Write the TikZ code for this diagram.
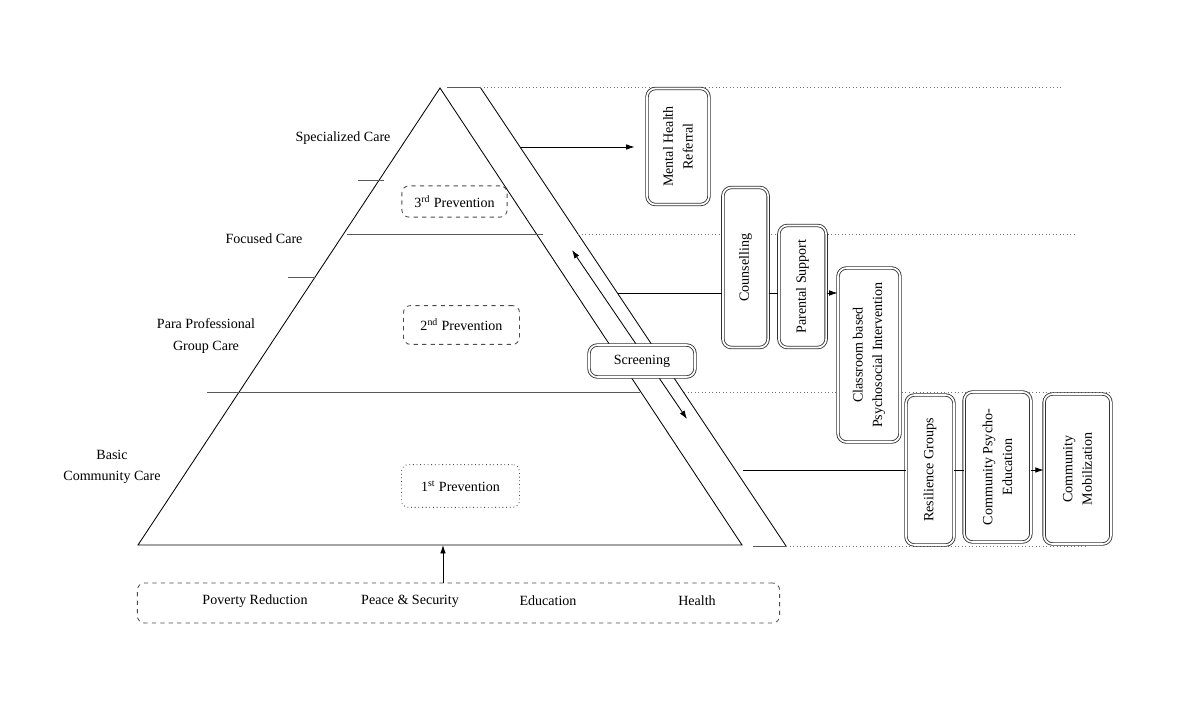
\documentclass[tikz,border=0pt]{standalone}
\usepackage{fontspec}
\setmainfont{Liberation Serif}
\usetikzlibrary{arrows.meta}
\begin{document}
\begin{tikzpicture}[x=0.025cm,y=-0.025cm,line width=0.6pt,
  lbl/.style={align=center,font=\fontsize{10}{15}\selectfont},
  prev/.style={draw=black!70,dashed,rounded corners=5pt,inner sep=0pt,font=\fontsize{10}{12}\selectfont},
  svc/.style={draw=black!80,double,double distance=1.2pt,rounded corners=6pt,fill=white,inner sep=0pt,align=center,font=\fontsize{10}{14}\selectfont},
  lvl/.style={draw=black!65},
  dots/.style={draw=black!55,dotted,line width=0.5pt},
  tip/.style={-{Latex[length=6pt,width=4pt]}}]
\useasboundingbox (0,0) rectangle (1200,702);
\coordinate (apex) at (440,88);
\coordinate (bl) at (138,545);
\coordinate (br) at (742,545);
\coordinate (ot) at (480,87);
\coordinate (ob) at (786,546);
\coordinate (tg) at (447,87);
\coordinate (bg) at (753,546);
\draw (apex) -- (bl) -- (br) -- cycle;
\draw (ot) -- (ob);
\draw[lvl] (tg) -- (ot);
\draw[lvl] (bg) -- (ob);
\draw[lvl] (358,180) -- (384,180);
\draw[lvl] (347,234) -- (543,234);
\draw[lvl] (288,277) -- (315,277);
\draw[lvl] (207,392) -- (640,392);
\draw[dots] (ot) -- (1062,87);
\draw[dots] (578,234) -- (1077,234);
\draw[dots] (684,392) -- (1110,392);
\draw[dots] (ob) -- (1087,546);
\node[lbl] (spc) at (343,138) {Specialized Care};
\node[lbl] (foc) at (264,239) {Focused Care};
\node[lbl] (para) at (206,336) {Para Professional\\Group Care};
\node[lbl] (bas) at (112,467) {Basic\\Community Care};
\node[prev,minimum width=2.63cm,minimum height=0.78cm] (p3) at (454.5,201.5) {3\textsuperscript{rd} Prevention};
\node[prev,minimum width=2.9cm,minimum height=0.97cm] (p2) at (461.5,325) {2\textsuperscript{nd} Prevention};
\node[prev,dotted,minimum width=2.95cm,minimum height=1.07cm] (p1) at (460.5,486) {1\textsuperscript{st} Prevention};
\node[prev,minimum width=16.05cm,minimum height=1cm] (found) at (458.5,603) {};
\node[lbl] (pov) at (255,601) {Poverty Reduction};
\node[lbl] (peace) at (410,601) {Peace \& Security};
\node[lbl] (edu) at (548,601) {Education};
\node[lbl] (hea) at (697,601) {Health};
\coordinate (up) at (443,583);
\draw[tip] (up) -- (up |- br);
\coordinate (sa) at (572,250);
\coordinate (sb) at (687,419);
\draw[{Latex[length=6pt,width=4pt]}-{Latex[length=6pt,width=4pt]}] (sa) -- (sb);
\node[svc,minimum width=2.65cm,minimum height=0.8cm] (scr) at (642,361) {Screening};
\node[svc,rotate=90,minimum width=2.9cm,minimum height=1.55cm] (ment) at (678,146.5) {Mental Health\\Referral};
\node[svc,rotate=90,minimum width=4cm,minimum height=1.13cm] (cou) at (745.5,267.5) {Counselling};
\node[svc,rotate=90,minimum width=3.05cm,minimum height=1.18cm] (par) at (802.5,286.5) {Parental Support};
\node[svc,rotate=90,minimum width=4.35cm,minimum height=1.55cm] (cls) at (869,355) {Classroom based\\Psychosocial Intervention};
\node[svc,rotate=90,minimum width=3.75cm,minimum height=1.2cm] (res) at (930,470) {Resilience Groups};
\node[svc,rotate=90,minimum width=3.75cm,minimum height=1.67cm] (cpe) at (997.5,467) {Community Psycho-\\Education};
\node[svc,rotate=90,minimum width=3.75cm,minimum height=1.67cm] (cmo) at (1077.5,469) {Community\\Mobilization};
\coordinate (c1) at (520,147);
\draw[tip,shorten >=0.3cm] (c1) -- (c1 -| ment.north);
\coordinate (c2) at (618,293);
\draw (c2) -- (c2 -| cou.north);
\draw (c2 -| cou.south) -- (c2 -| par.north);
\draw[tip] (c2 -| par.south) -- (c2 -| cls.north);
\coordinate (c3) at (743,470);
\draw (c3) -- (c3 -| res.north);
\draw (c3 -| res.south) -- (c3 -| cpe.north);
\draw[tip] (c3 -| cpe.south) -- (c3 -| cmo.north);
\end{tikzpicture}
\end{document}
